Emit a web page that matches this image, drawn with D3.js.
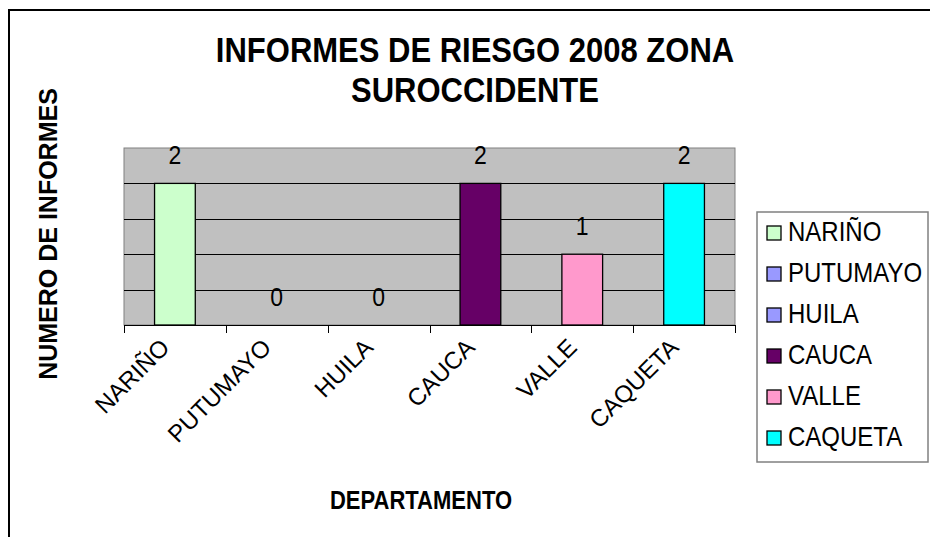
<!DOCTYPE html>
<html>
<head>
<meta charset="utf-8">
<script src="https://cdn.jsdelivr.net/npm/d3@7"></script>
<style>
  body { margin: 0; background: #fff; }
  text { font-family: Arial, "Liberation Sans", sans-serif; }
</style>
</head>
<body>
<div id="chart"></div>
<script>
// data
var departamentos = ["NARIÑO", "PUTUMAYO", "HUILA", "CAUCA", "VALLE", "CAQUETA"];
var informes = [2, 0, 0, 2, 1, 2];
var colores = ["#CCFFCC", "#9999FF", "#9999FF", "#660066", "#FF99CC", "#00FFFF"];
var y_ticks = [0, 0.5, 1, 1.5, 2, 2.5];

var width = 930, height = 537;
var plot = {left: 124, right: 735, top: 148, bottom: 325};
var stretch = 1.13;   // the picture's text is a bit taller than plain Arial

var svg = d3.select("#chart").append("svg")
    .attr("width", width).attr("height", height);

// outer chart frame (cut by the picture on right and bottom)
svg.append("rect")
    .attr("x", 9).attr("y", 10)
    .attr("width", 960).attr("height", 560)
    .attr("fill", "#fff")
    .attr("stroke", "#000").attr("stroke-width", 2);

var x = d3.scaleBand().domain(departamentos)
    .range([plot.left, plot.right])
    .paddingInner(0.6).paddingOuter(0.3);
var y = d3.scaleLinear().domain([0, 2.5]).range([plot.bottom, plot.top]);

// plot area
svg.append("rect")
    .attr("x", plot.left).attr("y", plot.top)
    .attr("width", plot.right - plot.left).attr("height", plot.bottom - plot.top)
    .attr("fill", "#C0C0C0")
    .attr("stroke", "#808080").attr("stroke-width", 1);

// gridlines
svg.selectAll("line.grid")
    .data(y_ticks.filter(function(d){ return d > 0 && d < 2.5; }))
    .enter().append("line")
    .attr("class", "grid")
    .attr("x1", plot.left).attr("x2", plot.right)
    .attr("y1", function(d){ return Math.round(y(d)) + 0.5; })
    .attr("y2", function(d){ return Math.round(y(d)) + 0.5; })
    .attr("stroke", "#000").attr("stroke-width", 1);

// bars
svg.selectAll("rect.bar")
    .data(departamentos)
    .enter().append("rect")
    .attr("class", "bar")
    .attr("x", function(d){ return x(d); })
    .attr("width", x.bandwidth())
    .attr("y", function(d, i){ return y(informes[i]); })
    .attr("height", function(d, i){ return y(0) - y(informes[i]); })
    .attr("fill", function(d, i){ return colores[i]; })
    .attr("stroke", "#000").attr("stroke-width", 1.3);

// x axis: line + ticks at category boundaries
var step = x.step();
var bounds = departamentos.map(function(d){ return x(d) - step * x.paddingInner() / 2; });
bounds.push(plot.right);
svg.append("line")
    .attr("x1", plot.left).attr("x2", plot.right)
    .attr("y1", plot.bottom + 0.5).attr("y2", plot.bottom + 0.5)
    .attr("stroke", "#000");
svg.selectAll("line.tick")
    .data(bounds)
    .enter().append("line")
    .attr("class", "tick")
    .attr("x1", function(d){ return Math.round(d) + 0.5; })
    .attr("x2", function(d){ return Math.round(d) + 0.5; })
    .attr("y1", plot.bottom).attr("y2", plot.bottom + 8)
    .attr("stroke", "#000");

// value labels
svg.selectAll("text.value")
    .data(departamentos)
    .enter().append("text")
    .attr("class", "value")
    .attr("transform", function(d, i){
        return "translate(" + (x(d) + x.bandwidth() / 2) + "," + (y(informes[i]) - 19) + ") scale(1," + stretch + ")";
    })
    .attr("text-anchor", "middle")
    .style("font-size", "23px")
    .text(function(d, i){ return informes[i]; });

// category labels rotated
svg.selectAll("text.cat")
    .data(departamentos)
    .enter().append("text")
    .attr("class", "cat")
    .attr("transform", function(d){
        return "translate(" + (x(d) + x.bandwidth() / 2 - 4) + "," + (plot.bottom + 24) + ") rotate(-45)";
    })
    .attr("text-anchor", "end")
    .style("font-size", "24px")
    .text(function(d){ return d; });

// title
var title = ["INFORMES DE RIESGO 2008 ZONA", "SUROCCIDENTE"];
svg.selectAll("text.title")
    .data(title)
    .enter().append("text")
    .attr("class", "title")
    .attr("transform", function(d, i){ return "translate(475," + (62 + i * 40) + ") scale(1," + stretch + ")"; })
    .attr("text-anchor", "middle")
    .style("font-size", "31px")
    .style("font-weight", "bold")
    .text(function(d){ return d; });

// axis titles
svg.append("text")
    .attr("transform", "translate(57,234) rotate(-90)")
    .attr("text-anchor", "middle")
    .style("font-size", "25px")
    .style("font-weight", "bold")
    .text("NUMERO DE INFORMES");

svg.append("text")
    .attr("transform", "translate(421,509) scale(1," + stretch + ")")
    .attr("text-anchor", "middle")
    .style("font-size", "22px")
    .style("font-weight", "bold")
    .text("DEPARTAMENTO");

// legend
var legend = svg.append("g").attr("transform", "translate(757,212)");
legend.append("rect")
    .attr("x", 0).attr("y", 0)
    .attr("width", 171).attr("height", 250)
    .attr("fill", "#fff")
    .attr("stroke", "#808080").attr("stroke-width", 1.5);
var item = legend.selectAll("g.item")
    .data(departamentos)
    .enter().append("g")
    .attr("class", "item")
    .attr("transform", function(d, i){ return "translate(0," + (21 + i * 41) + ")"; });
item.append("rect")
    .attr("x", 10).attr("y", -7)
    .attr("width", 14).attr("height", 14)
    .attr("fill", function(d, i){ return colores[i]; })
    .attr("stroke", "#000").attr("stroke-width", 1.3);
item.append("text")
    .attr("transform", "translate(31,8) scale(1," + stretch + ")")
    .style("font-size", "24px")
    .text(function(d){ return d; });
</script>
</body>
</html>
